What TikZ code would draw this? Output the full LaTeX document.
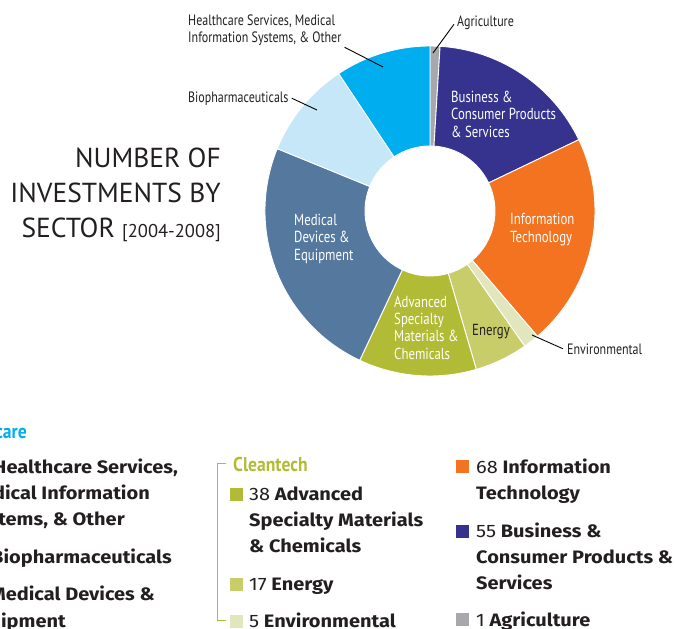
\documentclass[tikz,border=0pt]{standalone}
\usepackage{fontspec}
\setmainfont{PT Sans}
\newfontfamily\narrowfont[FakeStretch=0.8]{PT Sans}
\newfontfamily\groupfont[FakeStretch=0.88]{PT Sans}
\newfontfamily\legendfont[FakeStretch=1.11]{Fira Sans}
\usetikzlibrary{positioning}

\definecolor{hcblue}{HTML}{00AEEF}
\definecolor{biolight}{HTML}{C5E7F8}
\definecolor{meddev}{HTML}{55789F}
\definecolor{advmat}{HTML}{B2BB36}
\definecolor{energy}{HTML}{C8CD6A}
\definecolor{environ}{HTML}{E1E6BD}
\definecolor{infotech}{HTML}{F37321}
\definecolor{business}{HTML}{35338E}
\definecolor{agri}{HTML}{A6A8AB}
\definecolor{ink}{HTML}{231F20}

\tikzstyle{slice} = [draw=white, line width=0.9pt]
\tikzstyle{inlabel} = [align=left,
                      anchor=base west,
                      text=white,
                      font=\narrowfont\fontsize{16}{17.3}\selectfont]
\tikzstyle{outlabel} = [align=left,
                       anchor=base west,
                       text=ink,
                       font=\narrowfont\fontsize{15}{17}\selectfont]
\tikzstyle{leader} = [draw=black, line width=0.9pt]
\tikzstyle{legend} = [align=left,
                     anchor=base west,
                     text=ink,
                     font=\legendfont\bfseries\fontsize{18}{26}\selectfont]
\tikzstyle{swatch} = [minimum size=13pt]
\tikzstyle{group} = [font=\groupfont\bfseries\fontsize{20}{20}\selectfont]

\begin{document}
\begin{tikzpicture}[x=1pt, y=-1pt,
                    every node/.style={inner sep=0pt}]
    \useasboundingbox (0,0) rectangle (675,629);
    \clip (0,0) rectangle (675,629);

    % ring of sectors, clockwise from the top
    \begin{scope}[shift={(430,211)}]
      \foreach \from/\to/\col in {-90/-86.5/agri, -86.5/-25.6/business,
                                 -25.6/49.4/infotech, 49.4/55/environ,
                                 55/73.7/energy, 73.7/115.2/advmat,
                                 115.2/202.2/meddev, 202.2/236.4/biolight,
                                 236.4/270/hcblue}
        \draw[slice, fill=\col] (\from:165) arc[start angle=\from, end angle=\to, radius=165]
          -- (\to:65) arc[start angle=\to, end angle=\from, radius=65] -- cycle;
    \end{scope}

    % title (base = last line)
    \node (title) [anchor=base east, align=right, text=ink,
                   font=\fontsize{27.5}{35}\selectfont] at (221,237)
      {NUMBER OF\\INVESTMENTS BY\\SECTOR {\fontsize{18.5}{35}\selectfont [2004-2008]}};

    % labels inside the ring
    \node (bus) [inlabel] at (451,137) {Business \&\\Consumer Products\\\& Services};
    \node (it) [inlabel] at (510,242) {Information\\Technology};
    \node (med) [inlabel] at (294,260) {Medical\\Devices \&\\Equipment};
    \node (adv) [inlabel] at (394,359) {Advanced\\Specialty\\Materials \&\\Chemicals};
    \node (nrg) [outlabel, font=\narrowfont\fontsize{16}{17}\selectfont] at (472,335) {Energy};

    % labels outside the ring
    \node (hc) [outlabel] at (188,42) {Healthcare Services, Medical\\Information Systems, \& Other};
    \node (bio) [outlabel] at (188,102) {Biopharmaceuticals};
    \node (agr) [outlabel] at (457,26) {Agriculture};
    \node (env) [outlabel] at (567,354) {Environmental};
    \coordinate (hc-pt) at (383,67);
    \coordinate (bio-pt) at (317,110);
    \coordinate (agr-pt) at (433,53);
    \coordinate (env-pt) at (532,335);
    \draw[leader] ([xshift=3pt, yshift=-2pt]hc.south east) -- (hc-pt);
    \draw[leader] ([xshift=3pt]bio.east) -- (bio-pt);
    \draw[leader] ([xshift=-3pt, yshift=-2pt]agr.west) -- (agr-pt);
    \draw[leader] ([xshift=-4pt]env.west) -- (env-pt);

    % legend: healthcare
    \node (g-hc) [group, text=hcblue, anchor=base east] at (27,438) {Healthcare};
    \node (l-hc1) [legend, anchor=base east] at (178,473) {Healthcare Services,};
    \node (l-hc2) [legend, anchor=base east] at (150,499) {Medical Information};
    \node (l-hc3) [legend, anchor=base east] at (125,525) {Systems, \& Other};
    \node (l-bio) [legend, anchor=base east] at (172,563) {Biopharmaceuticals};
    \node (l-med1) [legend, anchor=base east] at (155,600) {Medical Devices \&};
    \node (l-med2) [legend, anchor=base east] at (66,627) {Equipment};

    % legend: cleantech
    \node (g-ct) [group, text=advmat, anchor=base west] at (233,471) {Cleantech};
    \draw[advmat, line width=1pt] (226,463) -| (217,620) -- (226,620);
    \node (s-adv) [swatch, fill=advmat] at (236,494) {};
    \node (s-nrg) [swatch, fill=energy] at (236,584) {};
    \node (s-env) [swatch, fill=environ] at (236,621) {};
    \node (l-adv) [legend] at (249,552) {{\mdseries 38} Advanced\\Specialty Materials\\\& Chemicals};
    \node (l-nrg) [legend] at (249,590) {{\mdseries 17} Energy};
    \node (l-env) [legend] at (249,627) {{\mdseries 5} Environmental};

    % legend: remaining sectors
    \node (s-it) [swatch, fill=infotech] at (462,466) {};
    \node (s-bus) [swatch, fill=business] at (462,531) {};
    \node (s-agr) [swatch, fill=agri] at (462,619) {};
    \node (l-it) [legend] at (476,499) {{\mdseries 68} Information\\Technology};
    \node (l-bus) [legend] at (476,589) {{\mdseries 55} Business \&\\Consumer Products \&\\Services};
    \node (l-agr) [legend] at (476,626) {{\mdseries 1} Agriculture};
\end{tikzpicture}
\end{document}
